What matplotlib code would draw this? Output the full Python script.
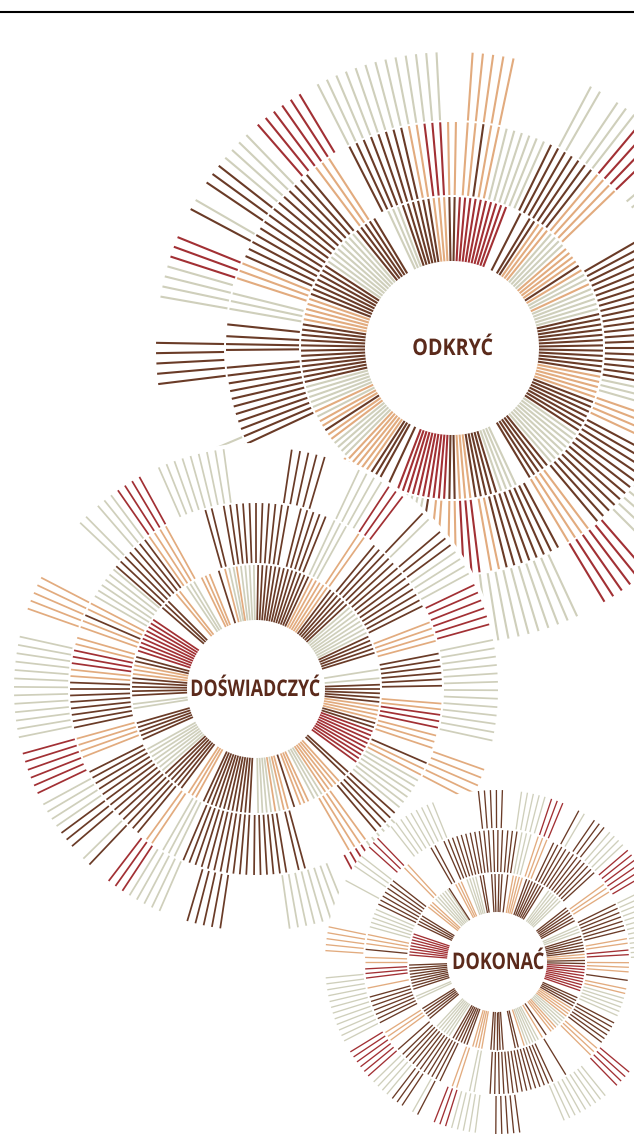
#!/usr/bin/env python3
import numpy as np
import matplotlib
matplotlib.use("Agg")
import matplotlib.pyplot as plt
from matplotlib.collections import LineCollection
from matplotlib.patches import Circle
from matplotlib.patheffects import AbstractPathEffect
from matplotlib.transforms import Affine2D

COLORS = {"D": "#6a3b27", "O": "#e2ab7e", "R": "#a23034", "G": "#cfcfbb"}

# every run is (category, clock angle of first spoke, number of spokes); spokes are 2 degrees apart
ODKRYC_INNER = [("D", 359, 2), ("R", 3, 10), ("D", 27, 1), ("D", 31, 2), ("O", 35, 3), ("G", 41, 4), ("O", 49, 4),
                ("D", 57, 1), ("O", 59, 1), ("G", 61, 2), ("O", 65, 1), ("G", 67, 5), ("D", 77, 12), ("O", 101, 5),
                ("D", 111, 7), ("G", 125, 8), ("D", 141, 5), ("G", 155, 4), ("D", 163, 5), ("O", 173, 3),
                ("D", 179, 2), ("R", 183, 10), ("D", 205, 1), ("D", 209, 3), ("O", 215, 5), ("G", 225, 4),
                ("O", 233, 2), ("D", 237, 1), ("O", 239, 2), ("G", 243, 1), ("O", 245, 1), ("G", 247, 5),
                ("D", 257, 12), ("O", 281, 5), ("D", 291, 7), ("G", 305, 8), ("D", 321, 5), ("G", 335, 3),
                ("D", 341, 6), ("O", 353, 3)]
ODKRYC_MIDDLE = [("O", 359, 2), ("O", 4, 2), ("D", 8, 1), ("O", 10, 2), ("G", 14, 6), ("D", 26, 7), ("O", 40, 4),
                 ("D", 60, 21), ("G", 102, 3), ("O", 109, 4), ("D", 118, 12), ("O", 143, 4), ("D", 152, 8),
                 ("O", 168, 2), ("R", 173, 3), ("O", 179, 2), ("O", 184, 2), ("D", 189, 1), ("G", 191, 4),
                 ("G", 212, 3), ("O", 218, 4), ("D", 245, 11), ("D", 269.5, 1), ("D", 271, 2), ("D", 276, 1),
                 ("G", 280, 3), ("O", 288, 3), ("D", 294, 14), ("O", 323, 3), ("D", 333, 8), ("O", 349, 2),
                 ("R", 353, 3)]
ODKRYC_OUTER = [("O", 4, 5), ("G", 28, 2), ("G", 34, 3), ("R", 40, 4), ("G", 50, 2), ("G", 127, 5), ("R", 139, 6),
                ("G", 155, 10), ("G", 241, 4), ("D", 263, 5), ("G", 280, 4), ("R", 288, 3), ("D", 298, 1),
                ("G", 300, 1), ("D", 304, 3), ("G", 310, 4), ("R", 319, 6), ("G", 333, 13)]

DOSWIADCZYC_INNER = [("D", 1, 13), ("O", 27, 5), ("D", 37, 6), ("G", 49, 8), ("D", 65, 5), ("G", 81, 1), ("G", 85, 1),
                     ("D", 88, 5), ("O", 98, 4), ("D", 106, 2), ("R", 110, 9), ("D", 132, 2), ("O", 138, 5),
                     ("G", 148, 3), ("O", 155, 3), ("D", 162, 1), ("O", 165, 2), ("G", 169, 1), ("O", 171, 1),
                     ("G", 173, 4), ("D", 183, 12), ("O", 209, 3), ("D", 217, 6), ("G", 229, 7), ("D", 246, 5),
                     ("G", 261, 2), ("D", 267, 5), ("O", 277, 3), ("D", 283, 2), ("R", 288, 9), ("D", 311, 3),
                     ("O", 320, 2), ("G", 326, 3), ("O", 334, 3), ("D", 342.5, 1), ("O", 345.5, 1), ("G", 347.5, 2),
                     ("O", 351, 1), ("G", 353, 4)]
DOSWIADCZYC_MIDDLE = [("D", 0, 6), ("D", 14, 5), ("G", 25, 3), ("O", 33.5, 2), ("D", 39.5, 13), ("O", 69, 4),
                      ("D", 79, 6), ("O", 94.5, 1), ("O", 96.3, 1), ("R", 98, 3), ("O", 104.5, 3), ("D", 113.5, 1),
                      ("O", 115.5, 2), ("G", 119.5, 6), ("D", 131.8, 5), ("O", 144, 4), ("D", 164.7, 2),
                      ("D", 170.6, 6), ("D", 183, 11), ("G", 206, 3), ("O", 214, 2), ("D", 219.5, 13), ("O", 248.5, 4),
                      ("D", 258, 8), ("O", 274, 2), ("R", 278, 3), ("O", 284, 2), ("O", 289.5, 2), ("D", 293.4, 1),
                      ("O", 295.4, 2), ("G", 300, 6), ("D", 311.3, 7), ("O", 325, 4), ("D", 344.2, 2), ("D", 350, 5)]
DOSWIADCZYC_OUTER = [("D", 8.5, 5), ("G", 25.2, 4), ("R", 33.3, 3), ("D", 43.5, 1), ("G", 45.5, 1), ("D", 49.5, 3),
                     ("G", 55.5, 4), ("R", 64.5, 6), ("G", 78.3, 13), ("O", 109.5, 5), ("G", 134, 6), ("R", 146, 4),
                     ("G", 158, 8), ("D", 188.5, 5), ("G", 203.5, 5), ("R", 213.5, 3), ("D", 223.5, 1),
                     ("G", 225.5, 1), ("D", 229.5, 3), ("G", 235.5, 4), ("R", 244.5, 6), ("G", 258.5, 13),
                     ("O", 289.4, 5), ("G", 313.4, 2), ("G", 319.2, 3), ("R", 325.2, 4), ("G", 336.3, 9)]

DOKONAC_INNER = [("D", 1.3, 2), ("D", 7, 1), ("O", 10.7, 4), ("D", 19.7, 7), ("G", 36, 6), ("D", 52, 6), ("G", 66, 3),
                 ("D", 73, 6), ("O", 85, 2), ("D", 89, 2), ("R", 93, 9), ("D", 114, 4), ("O", 122, 4), ("G", 130, 4),
                 ("O", 138, 3), ("D", 146, 1), ("O", 149, 1), ("G", 152, 5), ("O", 162, 1), ("D", 166, 2),
                 ("D", 176, 5), ("O", 190, 4), ("D", 200, 6), ("G", 213, 6), ("D", 230, 5), ("G", 245, 2),
                 ("D", 252, 9), ("R", 274.6, 8), ("D", 295.6, 4), ("O", 308.7, 3), ("G", 315.8, 6), ("D", 327, 1),
                 ("O", 332, 3), ("G", 340, 4), ("D", 349, 2), ("D", 356.5, 1), ("D", 358.7, 1)]
DOKONAC_MIDDLE = [("D", 358.4, 3), ("D", 4.7, 3), ("G", 10.9, 3), ("O", 18.2, 3), ("D", 25.4, 12), ("O", 54, 3),
                  ("D", 64, 7), ("O", 79.8, 2), ("R", 84.8, 2), ("O", 90.3, 3), ("D", 98, 1), ("O", 101.8, 2),
                  ("G", 106, 5), ("D", 117.5, 6), ("O", 130.8, 3), ("D", 148.6, 1), ("D", 155, 15), ("G", 190, 2),
                  ("O", 197.8, 2), ("D", 205.6, 11), ("D", 228.5, 1), ("O", 233.7, 3), ("D", 242.6, 7),
                  ("O", 258.6, 1), ("R", 263, 3), ("O", 270, 2), ("D", 275.5, 1), ("O", 278, 3), ("G", 285.5, 5),
                  ("D", 296, 7), ("O", 315.5, 2), ("D", 330, 2), ("D", 336.3, 11)]
DOKONAC_OUTER = [("D", 353.8, 5), ("G", 8.2, 5), ("R", 18.5, 3), ("D", 28.4, 1), ("G", 30.5, 1), ("D", 34.5, 3),
                 ("G", 41, 4), ("R", 49.5, 6), ("G", 64, 13), ("R", 129.8, 4), ("G", 141, 9), ("D", 172.4, 5),
                 ("G", 187.3, 5), ("R", 197.4, 3), ("D", 207.5, 1), ("G", 209.4, 1), ("D", 213.5, 3), ("G", 219.8, 4),
                 ("R", 228.5, 6), ("G", 242.7, 12), ("O", 273.8, 5), ("G", 298.3, 1), ("G", 304, 3), ("R", 312, 3),
                 ("G", 322, 9)]

WHEEL_TITLES = ["ODKRYĆ", "DOŚWIADCZYĆ", "DOKONAĆ"]


class Condense(AbstractPathEffect):
    # squeezes glyphs sideways, there is no condensed bold among the installed fonts
    def __init__(self, x_center, factor):
        super().__init__()
        self.x_center = x_center
        self.factor = factor

    def draw_path(self, renderer, gc, tpath, affine, rgbFace=None):
        squeeze = Affine2D().translate(-self.x_center, 0).scale(self.factor, 1).translate(self.x_center, 0)
        renderer.draw_path(gc, tpath, affine + squeeze, rgbFace)


def draw_wheel(ax, center, bands, rings, width, z):
    cx, cy = center
    for (r0, r1), runs in zip(bands, rings):
        segs, cols = [], []
        for cat, start, n in runs:
            for i in range(n):
                a = np.radians(start + 2 * i)
                sx, cy_dir = np.sin(a), -np.cos(a)
                segs.append([(cx + r0 * sx, cy + r0 * cy_dir), (cx + r1 * sx, cy + r1 * cy_dir)])
                cols.append(COLORS[cat])
        ax.add_collection(LineCollection(segs, colors=cols, linewidths=width, capstyle="butt", zorder=z))


fig = plt.figure(figsize=(6.34, 11.36), dpi=100)
ax = fig.add_axes([0, 0, 1, 1])
ax.set_xlim(0, 634)
ax.set_ylim(1136, 0)
ax.axis("off")

ax.plot([0, 634], [12, 12], color="black", lw=1.5, solid_capstyle="butt", zorder=1)

draw_wheel(ax, (452, 348), [(87, 151), (153, 226), (228, 296)],
           [ODKRYC_INNER, ODKRYC_MIDDLE, ODKRYC_OUTER], 1.5, 2)
ax.add_patch(Circle((256, 689), 246, facecolor="white", edgecolor="none", zorder=3))
draw_wheel(ax, (256, 689), [(69, 124), (126, 186), (188, 242)],
           [DOSWIADCZYC_INNER, DOSWIADCZYC_MIDDLE, DOSWIADCZYC_OUTER], 1.25, 4)
ax.add_patch(Circle((497, 962), 172.5, facecolor="white", edgecolor="none", zorder=5))
draw_wheel(ax, (497, 962), [(50, 88), (90, 132), (134, 172)],
           [DOKONAC_INNER, DOKONAC_MIDDLE, DOKONAC_OUTER], 0.95, 6)

label_font = ["Open Sans", "DejaVu Sans"]
for title, (x, y), factor in zip(WHEEL_TITLES, [(452.5, 349), (255, 690), (498, 963)], [0.86, 0.78, 0.79]):
    ax.text(x, y, title, ha="center", va="center", fontsize=16.5, fontweight="bold", color="#5b2a1b",
            family=label_font, zorder=8, path_effects=[Condense(x, factor)])

fig.savefig("out.png", dpi=100)
